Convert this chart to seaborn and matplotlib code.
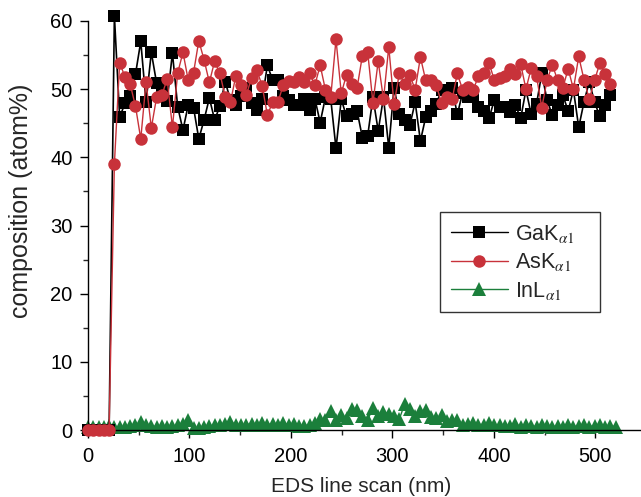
import numpy as np
import pandas as pd
import matplotlib
matplotlib.use("Agg")
import matplotlib.pyplot as plt
from matplotlib.ticker import MultipleLocator
import seaborn as sns

# %%
# passo do line scan (nm)
step_nm = 5.2

ga_k = [0, 0, 0, 0, 0,
        60.8, 45.9, 47.9, 49.0, 52.2, 57.0, 48.1, 55.4, 50.9, 50.4,
        48.3, 55.3, 47.4, 44.0, 47.7, 47.3, 42.7, 45.5, 48.7, 45.5,
        47.5, 51.1, 48.4, 47.7, 49.0, 50.1, 47.9, 46.9, 48.5, 53.5,
        51.3, 51.3, 49.0, 48.4, 47.7, 47.7, 48.5, 47.0, 48.6, 45.1,
        48.8, 48.6, 41.3, 48.5, 46.0, 46.3, 46.8, 42.9, 43.1, 48.8,
        43.9, 48.8, 41.4, 50.2, 46.3, 45.5, 44.7, 48.1, 42.4, 45.9,
        46.8, 47.8, 49.9, 49.9, 50.1, 46.3, 49.5, 48.9, 49.1, 47.4,
        46.8, 45.7, 48.4, 47.4, 47.4, 46.7, 47.7, 45.7, 49.9, 46.3,
        47.8, 52.3, 48.4, 46.2, 47.7, 49.1, 46.8, 49.9, 44.4, 48.1,
        51.1, 48.1, 46.0, 47.7, 49.1]

as_k = [0, 0, 0, 0, 0,
        39.0, 53.9, 51.8, 50.7, 47.5, 42.7, 51.1, 44.3, 48.8, 49.1,
        51.5, 44.4, 52.4, 55.4, 51.3, 52.4, 57.1, 54.3, 51.0, 54.1,
        52.3, 48.9, 48.1, 51.9, 50.6, 49.1, 51.7, 52.8, 50.5, 46.2,
        48.1, 48.1, 50.6, 51.2, 51.1, 51.8, 51.1, 52.3, 50.6, 53.5,
        49.9, 48.8, 57.3, 49.4, 52.1, 50.7, 50.2, 54.9, 55.5, 48.0,
        54.1, 48.5, 56.2, 47.8, 52.3, 50.7, 52.1, 49.9, 54.7, 51.3,
        51.4, 50.6, 48.0, 48.9, 48.5, 52.3, 49.9, 50.3, 49.9, 51.9,
        52.4, 53.9, 51.3, 51.6, 51.9, 53.0, 52.2, 53.7, 50.0, 53.1,
        51.9, 47.3, 51.3, 53.6, 51.3, 50.2, 53.0, 50.0, 54.8, 51.4,
        48.5, 51.3, 53.8, 52.2, 50.7]

in_l = [0.4, 0.5, 0.4, 0.5, 0.6, 0.4, 0.5, 0.5, 0.6, 0.7,
        1.2, 0.7, 0.6, 0.5, 0.6, 0.5, 0.6, 0.7, 0.9, 1.5,
        0.3, 0.3, 0.5, 0.6, 0.7, 0.8, 0.9, 1.2, 0.8, 0.7,
        0.8, 0.9, 0.7, 1.0, 0.8, 0.9, 0.7, 1.0, 0.8, 0.9,
        0.6, 0.6, 0.8, 1.0, 1.6, 1.4, 2.8, 1.5, 2.2, 1.8,
        3.1, 2.9, 2.1, 1.5, 3.2, 2.0, 2.7, 2.3, 2.1, 1.6,
        3.8, 3.1, 2.1, 2.8, 2.9, 1.9, 1.7, 2.2, 1.3, 1.5,
        1.4, 0.7, 0.9, 1.0, 0.8, 0.8, 1.0, 0.7, 0.8, 0.6,
        0.6, 0.9, 0.5, 0.7, 0.6, 0.5, 0.7, 0.6, 0.5, 0.6,
        0.5, 0.7, 0.5, 0.6, 0.7, 0.5, 0.6, 0.8, 0.5, 0.6,
        0.5]

# %%
ga_df = pd.DataFrame({'x': step_nm * np.arange(len(ga_k)), 'y': ga_k})
as_df = pd.DataFrame({'x': step_nm * np.arange(len(as_k)), 'y': as_k})
in_df = pd.DataFrame({'x': step_nm * np.arange(len(in_l)), 'y': in_l})

sns.set_style('ticks')
plt.rcParams['font.family'] = ['Liberation Sans', 'DejaVu Sans']
plt.rcParams['mathtext.fontset'] = 'stix'

fig = plt.figure(figsize=(6.41, 4.97), dpi=100)
ax = fig.add_axes([88 / 641, 67 / 497, 552 / 641, 409 / 497])

# In primeiro (fica por baixo), depois Ga e As
sns.lineplot(data=in_df, x='x', y='y', ax=ax, color='#1b7f3b',
             marker='^', markersize=10, markeredgewidth=0, linewidth=1,
             estimator=None, sort=False, clip_on=False, zorder=2)
sns.lineplot(data=ga_df, x='x', y='y', ax=ax, color='black',
             marker='s', markersize=8.2, markeredgewidth=0, linewidth=1.2,
             estimator=None, sort=False, clip_on=False, zorder=3)
sns.lineplot(data=as_df, x='x', y='y', ax=ax, color='#c8323a',
             marker='o', markersize=9.0, markeredgewidth=0, linewidth=1,
             estimator=None, sort=False, clip_on=False, zorder=4)

ax.set_xlim(0, 544)
ax.set_ylim(0, 60)
ax.xaxis.set_major_locator(MultipleLocator(100))
ax.xaxis.set_minor_locator(MultipleLocator(50))
ax.yaxis.set_major_locator(MultipleLocator(10))
ax.yaxis.set_minor_locator(MultipleLocator(5))
ax.tick_params(which='major', direction='out', length=6, width=1,
               labelsize=14.5, colors='black')
ax.tick_params(axis='x', which='major', pad=6)
ax.tick_params(axis='y', which='major', pad=5)
ax.tick_params(which='minor', direction='out', length=3.5, width=1)
for side in ['left', 'bottom']:
    ax.spines[side].set_linewidth(1)
    ax.spines[side].set_color('black')
sns.despine(ax=ax)

ax.set_xlabel('EDS line scan (nm)', fontsize=15)
ax.set_ylabel('composition (atom%)', fontsize=18)
ax.xaxis.set_label_coords(0.495, -0.115)
ax.yaxis.set_label_coords(-0.1, 0.56)

handles = [
    plt.Line2D([], [], color='black', marker='s', markersize=8.2, markeredgewidth=0, linewidth=1),
    plt.Line2D([], [], color='#c8323a', marker='o', markersize=9.0, markeredgewidth=0, linewidth=1),
    plt.Line2D([], [], color='#1b7f3b', marker='^', markersize=10, markeredgewidth=0, linewidth=1),
]
labels = [r'GaK$_{\alpha 1}$   ', r'AsK$_{\alpha 1}$   ', r'InL$_{\alpha 1}$   ']
leg = fig.legend(handles, labels, loc='upper left',
                 bbox_to_anchor=(440 / 641, 1 - 212 / 497),
                 fontsize=15.5, frameon=True, fancybox=False,
                 handlelength=2.65, handletextpad=0.35, labelspacing=0.3,
                 borderpad=0.5, borderaxespad=0)
leg.get_frame().set_edgecolor('black')
leg.get_frame().set_linewidth(1)

fig.savefig('out.png', dpi=100)
